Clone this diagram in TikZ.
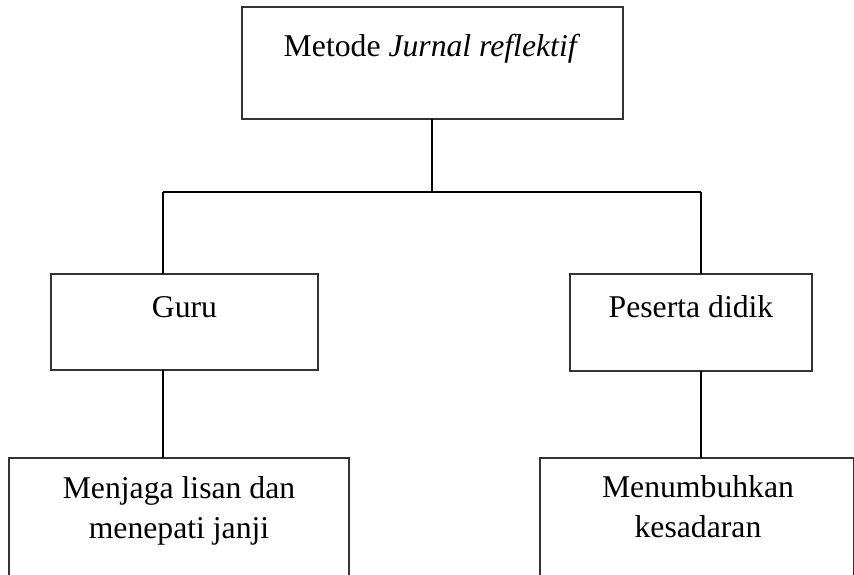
\documentclass[tikz,border=0pt]{standalone}
\usepackage{fontspec}
\setmainfont{Liberation Serif}
\begin{document}
\begin{tikzpicture}[x=1pt,y=-1pt,
  box/.style={draw=black!80, line width=1.3pt, rectangle, inner sep=0pt, outer sep=0pt},
  conn/.style={draw=black, line width=2pt},
  txt/.style={inner sep=0pt, font=\fontsize{31.7}{40}\selectfont, align=center}]
\useasboundingbox (0,0) rectangle (854,575);
\clip (0,0) rectangle (854,575);
% boxes
\node[box, minimum width=381pt, minimum height=112pt] (top) at (432.5,63) {};
\node[box, minimum width=267pt, minimum height=96pt] (guru) at (184.5,322) {};
\node[box, minimum width=242pt, minimum height=97pt] (peserta) at (691,322.5) {};
\node[box, minimum width=340pt, minimum height=160pt] (menjaga) at (179,538) {};
\node[box, minimum width=314pt, minimum height=160pt] (menumbuh) at (697,538) {};
% texts
\node[txt, anchor=base] (toptext) at (432,57) {Metode \textit{Jurnal reflektif}};
\node[txt, anchor=base] (gurutext) at (184.5,317) {Guru};
\node[txt, anchor=base] (pesertatext) at (691,317) {Peserta didik};
\node[txt, anchor=base] (menjagatext1) at (179,498) {Menjaga lisan dan};
\node[txt, anchor=base] (menjagatext2) at (179,538) {menepati janji};
\node[txt, anchor=base] (menumbuhtext1) at (698,497) {Menumbuhkan};
\node[txt, anchor=base] (menumbuhtext2) at (698,537) {kesadaran};
% connectors
\coordinate (hub) at (432,192);
\coordinate (hl) at (163,192);
\coordinate (hr) at (701,192);
\draw[conn] (top.south -| hub) -- (hub);
\draw[conn] (hl) -- (hr);
\draw[conn] (hl) -- (hl |- guru.north);
\draw[conn] (hr) -- (hr |- peserta.north);
\draw[conn] (hl |- guru.south) -- (hl |- menjaga.north);
\draw[conn] (hr |- peserta.south) -- (hr |- menumbuh.north);
\end{tikzpicture}
\end{document}
